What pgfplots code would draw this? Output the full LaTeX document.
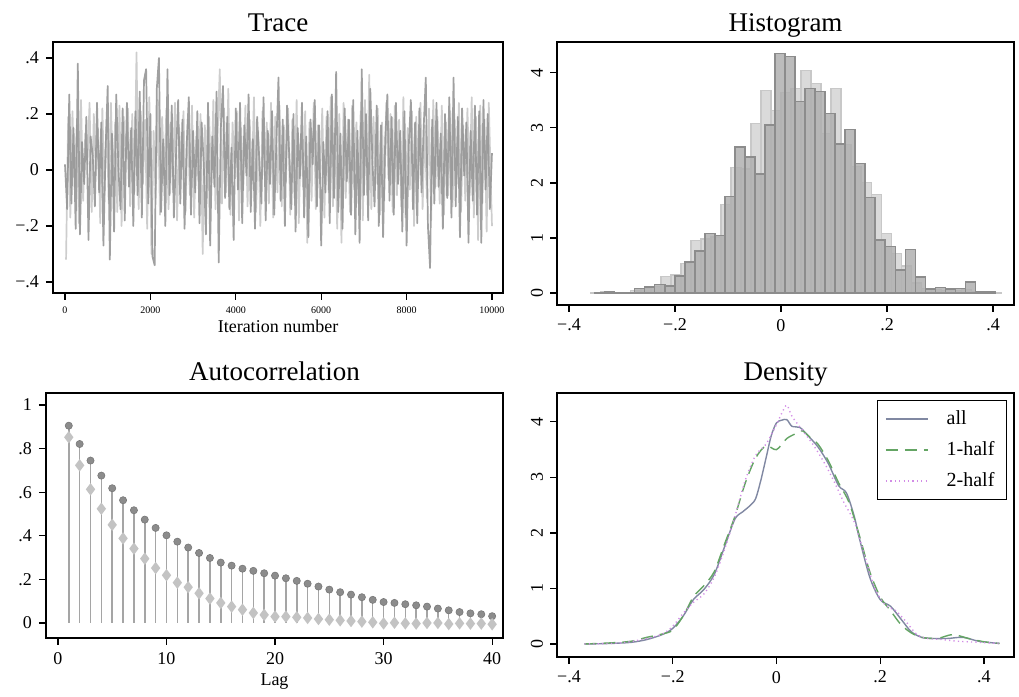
\documentclass[border=0pt]{standalone}
\usepackage{pgfplots}
\pgfplotsset{compat=1.18}
\usepackage{fontspec}
\setmainfont{Liberation Serif}
\definecolor{tdark}{RGB}{150,150,150}
\definecolor{tlight}{RGB}{205,205,205}
\definecolor{hlight}{RGB}{218,218,218}
\definecolor{hlightedge}{RGB}{200,200,200}
\definecolor{hdark}{RGB}{176,176,176}
\definecolor{hdarkedge}{RGB}{140,140,140}
\definecolor{stem}{RGB}{165,165,165}
\definecolor{cdark}{RGB}{140,140,140}
\definecolor{cdarkedge}{RGB}{120,120,120}
\definecolor{dlight}{RGB}{195,195,195}
\definecolor{dall}{RGB}{128,136,162}
\definecolor{dhalf}{RGB}{100,165,100}
\definecolor{dtwo}{RGB}{210,140,230}
\begin{document}
\begin{tikzpicture}
\path (0pt,0pt) rectangle (509.5pt,-346.5pt);
\pgfplotsset{every axis/.append style={
  scale only axis, anchor=north west,
  axis line style={line width=0.7pt},
  tick align=outside, major tick length=3.5pt,
  xtick pos=bottom, ytick pos=left,
  scaled x ticks=false, scaled y ticks=false,
  tick style={black,line width=0.6pt},
  tick label style={font=\fontsize{9}{10}\selectfont},
  title style={font=\fontsize{13.5}{15}\selectfont, at={(0.5,1)}, anchor=base},
  xlabel style={font=\fontsize{9}{10}\selectfont, at={(0.5,0)}, anchor=base},
}}
% ---------------- Trace ----------------
\begin{axis}[at={(26.5pt,-21pt)}, width=225pt, height=125.5pt,
  xmin=-281, xmax=10258, ymin=-0.439, ymax=0.457,
  xtick={0,2000,4000,6000,8000,10000}, xticklabels={0,2000,4000,6000,8000,10000},
  xticklabel style={font=\fontsize{5}{6}\selectfont},
  ytick={-0.4,-0.2,0,0.2,0.4}, yticklabels={−.4,−.2,0,.2,.4},
  title={Trace}, title style={yshift=-1pt},
  xlabel={Iteration number}, xlabel style={yshift=-20pt}]
\addplot[tlight, line width=0.85pt, line join=round] coordinates {
(25,-0.32) (75,0.19) (125,-0.17) (175,0.21) (225,-0.06) (275,0.16) (325,-0.19) (375,0.25) (425,-0.11) (475,0.13)
(525,0.02) (575,0.24) (625,-0.15) (675,0.20) (725,-0.02) (775,0.15) (825,-0.19) (875,0.22) (925,-0.09) (975,0.18)
(1025,-0.12) (1075,0.24) (1125,-0.04) (1175,0.17) (1225,-0.15) (1275,0.23) (1325,-0.20) (1375,0.19) (1425,0.03) (1475,0.22)
(1525,-0.13) (1575,0.20) (1625,-0.08) (1675,0.42) (1725,-0.14) (1775,0.21) (1825,-0.05) (1875,0.18) (1925,-0.21) (1975,0.26)
(2025,-0.30) (2075,0.14) (2125,-0.10) (2175,0.25) (2225,-0.16) (2275,0.19) (2325,-0.03) (2375,0.22) (2425,-0.14) (2475,0.17)
(2525,-0.08) (2575,0.24) (2625,-0.18) (2675,0.15) (2725,0.01) (2775,0.21) (2825,-0.15) (2875,0.18) (2925,-0.09) (2975,0.23)
(3025,-0.17) (3075,0.12) (3125,-0.04) (3175,0.20) (3225,-0.30) (3275,0.16) (3325,-0.10) (3375,0.19) (3425,-0.06) (3475,0.25)
(3525,-0.14) (3575,0.13) (3625,0.36) (3675,-0.12) (3725,0.22) (3775,-0.08) (3825,0.29) (3875,-0.16) (3925,0.17) (3975,-0.03)
(4025,0.21) (4075,-0.18) (4125,0.15) (4175,-0.07) (4225,0.23) (4275,-0.13) (4325,0.18) (4375,-0.05) (4425,0.26) (4475,-0.15)
(4525,0.14) (4575,-0.20) (4625,0.21) (4675,-0.02) (4725,0.17) (4775,-0.12) (4825,0.24) (4875,-0.17) (4925,0.19) (4975,-0.08)
(5025,0.23) (5075,-0.13) (5125,0.16) (5175,-0.04) (5225,0.22) (5275,-0.16) (5325,0.18) (5375,-0.10) (5425,0.25) (5475,-0.19)
(5525,0.13) (5575,-0.06) (5625,0.21) (5675,-0.26) (5725,0.17) (5775,-0.11) (5825,0.24) (5875,-0.14) (5925,0.16) (5975,-0.03)
(6025,0.22) (6075,-0.17) (6125,0.19) (6175,-0.08) (6225,0.26) (6275,-0.13) (6325,0.15) (6375,-0.21) (6425,0.20) (6475,-0.26)
(6525,0.24) (6575,-0.10) (6625,0.18) (6675,-0.15) (6725,0.23) (6775,-0.07) (6825,0.17) (6875,-0.12) (6925,0.21) (6975,-0.18)
(7025,0.25) (7075,-0.09) (7125,0.34) (7175,-0.14) (7225,0.19) (7275,-0.05) (7325,0.22) (7375,-0.16) (7425,0.17) (7475,-0.11)
(7525,0.24) (7575,-0.03) (7625,0.20) (7675,-0.15) (7725,0.23) (7775,-0.09) (7825,0.18) (7875,-0.13) (7925,0.26) (7975,-0.17)
(8025,0.15) (8075,-0.07) (8125,0.21) (8175,-0.20) (8225,0.19) (8275,-0.04) (8325,0.24) (8375,-0.14) (8425,0.16) (8475,-0.10)
(8525,0.22) (8575,-0.18) (8625,0.25) (8675,-0.06) (8725,0.19) (8775,-0.12) (8825,0.23) (8875,-0.16) (8925,0.17) (8975,-0.09)
(9025,0.21) (9075,-0.13) (9125,0.18) (9175,-0.05) (9225,0.24) (9275,-0.15) (9325,0.16) (9375,-0.11) (9425,0.22) (9475,-0.08)
(9525,0.26) (9575,-0.17) (9625,0.19) (9675,-0.25) (9725,0.23) (9775,-0.12) (9825,0.18) (9875,-0.22) (9925,0.24) (9975,-0.06)
(10000,-0.20)};
\addplot[tdark, line width=0.85pt, line join=round, opacity=0.9] coordinates {
(0,0.02) (50,-0.14) (100,0.27) (150,-0.12) (200,0.15) (250,-0.21) (300,0.38) (350,-0.23) (400,0.10) (450,-0.05)
(500,0.19) (550,-0.25) (600,0.12) (650,0.05) (700,-0.13) (750,0.24) (800,-0.08) (850,0.17) (900,-0.27) (950,0.07)
(1000,0.30) (1050,-0.32) (1100,0.13) (1150,-0.22) (1200,0.27) (1250,0.01) (1300,-0.14) (1350,0.22) (1400,-0.18) (1450,0.24)
(1500,-0.06) (1550,0.15) (1600,-0.20) (1650,0.21) (1700,-0.09) (1750,0.28) (1800,-0.17) (1850,0.32) (1900,0.36) (1950,-0.12)
(2000,0.20) (2050,-0.31) (2100,-0.34) (2150,0.29) (2200,0.40) (2250,-0.15) (2300,0.11) (2350,-0.20) (2400,0.36) (2450,-0.09)
(2500,0.23) (2550,-0.17) (2600,0.05) (2650,0.25) (2700,-0.12) (2750,0.18) (2800,-0.21) (2850,0.09) (2900,0.26) (2950,-0.16)
(3000,0.14) (3050,-0.08) (3100,0.21) (3150,-0.19) (3200,0.17) (3250,0.02) (3300,-0.23) (3350,0.24) (3400,-0.27) (3450,0.12)
(3500,-0.06) (3550,0.28) (3600,-0.33) (3650,0.15) (3700,0.30) (3750,-0.10) (3800,0.19) (3850,-0.14) (3900,0.08) (3950,-0.25)
(4000,0.22) (4050,-0.07) (4100,0.24) (4150,-0.19) (4200,0.16) (4250,-0.02) (4300,0.27) (4350,-0.15) (4400,0.11) (4450,-0.21)
(4500,0.19) (4550,0.04) (4600,-0.12) (4650,0.26) (4700,-0.18) (4750,0.14) (4800,-0.05) (4850,0.21) (4900,-0.16) (4950,0.09)
(5000,0.33) (5050,-0.11) (5100,0.18) (5150,-0.20) (5200,0.23) (5250,0.06) (5300,-0.14) (5350,0.20) (5400,-0.22) (5450,0.15)
(5500,-0.03) (5550,0.24) (5600,-0.17) (5650,0.12) (5700,-0.24) (5750,0.18) (5800,0.02) (5850,0.25) (5900,-0.13) (5950,0.16)
(6000,-0.27) (6050,0.10) (6100,-0.08) (6150,0.21) (6200,-0.19) (6250,0.27) (6300,-0.10) (6350,0.35) (6400,-0.15) (6450,0.13)
(6500,-0.21) (6550,0.22) (6600,-0.04) (6650,0.18) (6700,-0.16) (6750,0.25) (6800,-0.23) (6850,0.14) (6900,-0.26) (6950,0.36)
(7000,-0.09) (7050,0.20) (7100,-0.18) (7150,0.29) (7200,0.03) (7250,-0.13) (7300,0.23) (7350,-0.20) (7400,0.16) (7450,-0.24)
(7500,0.11) (7550,0.27) (7600,-0.11) (7650,0.19) (7700,-0.16) (7750,0.24) (7800,-0.05) (7850,0.14) (7900,-0.22) (7950,0.21)
(8000,-0.27) (8050,0.08) (8100,0.25) (8150,-0.14) (8200,0.17) (8250,-0.19) (8300,0.22) (8350,-0.08) (8400,0.15) (8450,0.33)
(8500,-0.20) (8550,-0.35) (8600,0.18) (8650,-0.12) (8700,0.24) (8750,-0.06) (8800,0.13) (8850,-0.21) (8900,0.20) (8950,-0.10)
(9000,0.26) (9050,-0.17) (9100,0.33) (9150,-0.13) (9200,0.19) (9250,-0.24) (9300,0.22) (9350,-0.02) (9400,0.17) (9450,-0.26)
(9500,0.14) (9550,-0.11) (9600,0.23) (9650,-0.16) (9700,0.21) (9750,-0.26) (9800,0.25) (9850,-0.07) (9900,0.20) (9950,-0.14)
(10000,0.06)};
\end{axis}
% ---------------- Histogram ----------------
\begin{axis}[at={(278.5pt,-21pt)}, width=228.5pt, height=131.5pt,
  xmin=-0.4226, xmax=0.4396, ymin=-0.218, ymax=4.56,
  xtick={-0.4,-0.2,0,0.2,0.4}, xticklabels={−.4,−.2,0,.2,.4},
  ytick={0,1,2,3,4}, yticklabels={0,1,2,3,4},
  yticklabel style={rotate=90, anchor=south},
  title={Histogram}, title style={yshift=-1pt}]
\addplot[ybar interval, fill=hlight, draw=hlightedge, line width=0.7pt] coordinates {
(-0.3590,0.01) (-0.3401,0.02) (-0.3212,0.01) (-0.3023,0.005) (-0.2834,0.05) (-0.2645,0.08) (-0.2456,0.12) (-0.2267,0.30)
(-0.2078,0.33) (-0.1889,0.54) (-0.1700,0.95) (-0.1511,0.98) (-0.1322,1.02) (-0.1133,1.61) (-0.0944,2.28) (-0.0755,2.25)
(-0.0566,3.08) (-0.0377,3.68) (-0.0188,3.32) (0.0001,3.64) (0.0190,3.72) (0.0379,4.04) (0.0568,3.81) (0.0757,2.90)
(0.0946,3.71) (0.1135,2.70) (0.1324,2.30) (0.1513,2.01) (0.1702,1.79) (0.1891,1.08) (0.2080,0.72) (0.2269,0.49)
(0.2458,0.18) (0.2647,0.08) (0.2836,0.06) (0.3025,0.05) (0.3214,0.04) (0.3403,0.06) (0.3592,0.02) (0.3781,0.02)
(0.3970,0.01) (0.4159,0.01)};
\addplot[ybar interval, fill=hdark, fill opacity=0.85, draw=hdarkedge, line width=0.7pt] coordinates {
(-0.3515,0.01) (-0.3326,0.02) (-0.3137,0.01) (-0.2948,0.005) (-0.2759,0.085) (-0.2570,0.11) (-0.2381,0.15) (-0.2192,0.13)
(-0.2003,0.31) (-0.1814,0.56) (-0.1625,0.76) (-0.1436,1.08) (-0.1247,1.04) (-0.1058,1.75) (-0.0869,2.65) (-0.0680,2.47)
(-0.0491,2.16) (-0.0302,3.05) (-0.0113,4.35) (0.0076,4.30) (0.0265,3.48) (0.0454,3.71) (0.0643,3.66) (0.0832,3.26)
(0.1021,2.71) (0.1210,2.97) (0.1399,2.35) (0.1588,1.74) (0.1777,0.96) (0.1966,0.84) (0.2155,0.42) (0.2344,0.79)
(0.2533,0.29) (0.2722,0.07) (0.2911,0.10) (0.3100,0.07) (0.3289,0.085) (0.3478,0.20) (0.3667,0.02) (0.3856,0.02)
(0.4045,0.02)};
\end{axis}
% ---------------- Autocorrelation ----------------
\begin{axis}[at={(23pt,-196.5pt)}, width=228.5pt, height=122.5pt,
  xmin=-1.1, xmax=41.0, ymin=-0.069, ymax=1.055,
  xtick={0,10,20,30,40}, xticklabels={0,10,20,30,40},
  ytick={0,0.2,0.4,0.6,0.8,1}, yticklabels={0,.2,.4,.6,.8,1},
  title={Autocorrelation}, title style={yshift=0pt},
  xlabel={Lag}, xlabel style={yshift=-24pt}]
\addplot[ycomb, stem, line width=0.75pt, mark=*, mark size=1.8pt,
  mark options={fill=cdark, draw=cdarkedge, line width=0.3pt}] coordinates {
(1,0.905) (2,0.821) (3,0.745) (4,0.676) (5,0.618) (6,0.563) (7,0.517) (8,0.474) (9,0.436) (10,0.402)
(11,0.373) (12,0.346) (13,0.321) (14,0.298) (15,0.277) (16,0.263) (17,0.249) (18,0.239) (19,0.228) (20,0.217)
(21,0.205) (22,0.193) (23,0.180) (24,0.167) (25,0.153) (26,0.141) (27,0.130) (28,0.118) (29,0.106) (30,0.096)
(31,0.092) (32,0.086) (33,0.081) (34,0.075) (35,0.066) (36,0.058) (37,0.050) (38,0.044) (39,0.040) (40,0.031)};
\addplot[ycomb, stem, line width=0.75pt, mark=diamond*, mark size=2.5pt,
  mark options={fill=dlight, draw=dlight}] coordinates {
(1,0.852) (2,0.723) (3,0.613) (4,0.524) (5,0.450) (6,0.388) (7,0.341) (8,0.295) (9,0.252) (10,0.219)
(11,0.185) (12,0.164) (13,0.136) (14,0.112) (15,0.092) (16,0.075) (17,0.061) (18,0.046) (19,0.037) (20,0.029)
(21,0.029) (22,0.026) (23,0.023) (24,0.018) (25,0.015) (26,0.012) (27,0.009) (28,0.006) (29,0.003) (30,-0.002)
(31,0.001) (32,-0.002) (33,-0.003) (34,0.000) (35,0.000) (36,-0.005) (37,-0.002) (38,-0.003) (39,-0.003) (40,-0.006)};
\end{axis}
% ---------------- Density ----------------
\begin{axis}[at={(278.5pt,-196.5pt)}, width=228.5pt, height=132pt,
  xmin=-0.423, xmax=0.458, ymin=-0.234, ymax=4.52,
  xtick={-0.4,-0.2,0,0.2,0.4}, xticklabels={−.4,−.2,0,.2,.4},
  ytick={0,1,2,3,4}, yticklabels={0,1,2,3,4},
  yticklabel style={rotate=90, anchor=south},
  title={Density}, title style={yshift=0pt},
  legend style={at={(1,1)}, anchor=north east, xshift=-3.5pt, yshift=-3.5pt,
    draw=black, line width=0.6pt, font=\fontsize{10}{11}\selectfont,
    row sep=3pt, inner xsep=4pt, inner ysep=3pt,
    /tikz/every odd column/.append style={column sep=7pt}},
  legend cell align=left,
  legend image code/.code={\draw[#1] (0pt,0pt) -- (21pt,0pt);}]
\addplot[dall, line width=0.7pt, smooth] coordinates {
(-0.37,0) (-0.32,0.01) (-0.28,0.03) (-0.25,0.08) (-0.22,0.17) (-0.2,0.28) (-0.18,0.5) (-0.16,0.8) (-0.14,0.98)
(-0.12,1.25) (-0.1,1.75) (-0.08,2.25) (-0.065,2.38) (-0.05,2.5) (-0.04,2.62) (-0.03,2.95) (-0.02,3.35) (-0.01,3.75)
(0,3.98) (0.01,4.03) (0.02,4.04) (0.03,3.92) (0.045,3.9) (0.06,3.76) (0.08,3.55) (0.1,3.25) (0.12,2.85) (0.135,2.72)
(0.15,2.3) (0.16,1.9) (0.18,1.2) (0.2,0.8) (0.22,0.68) (0.24,0.45) (0.26,0.22) (0.28,0.12) (0.3,0.1) (0.33,0.1)
(0.36,0.12) (0.39,0.05) (0.43,0.01)};
\addlegendentry{all}
\addplot[dhalf, line width=0.7pt, smooth, dash pattern=on 6pt off 3.5pt] coordinates {
(-0.37,0) (-0.32,0.02) (-0.28,0.05) (-0.25,0.12) (-0.22,0.18) (-0.2,0.25) (-0.18,0.5) (-0.16,0.85) (-0.14,1.05)
(-0.12,1.3) (-0.1,1.8) (-0.08,2.3) (-0.06,2.9) (-0.04,3.35) (-0.02,3.57) (0,3.5) (0.02,3.7) (0.04,3.8) (0.05,3.84)
(0.065,3.72) (0.08,3.6) (0.1,3.3) (0.12,2.9) (0.14,2.55) (0.16,1.95) (0.18,1.3) (0.2,0.85) (0.22,0.6) (0.24,0.35)
(0.26,0.2) (0.28,0.12) (0.31,0.1) (0.34,0.17) (0.37,0.1) (0.4,0.04) (0.43,0.01)};
\addlegendentry{1-half}
\addplot[dtwo, line width=0.7pt, smooth, dash pattern=on 0.6pt off 1.6pt] coordinates {
(-0.37,0) (-0.3,0.02) (-0.25,0.1) (-0.22,0.18) (-0.2,0.32) (-0.18,0.55) (-0.16,0.75) (-0.14,0.9) (-0.12,1.2)
(-0.1,1.7) (-0.08,2.3) (-0.06,2.95) (-0.04,3.4) (-0.02,3.6) (0,3.95) (0.01,4.15) (0.02,4.3) (0.03,4.1) (0.05,3.85)
(0.07,3.6) (0.09,3.3) (0.11,2.95) (0.13,2.55) (0.15,2.2) (0.17,1.6) (0.19,1.0) (0.21,0.7) (0.23,0.6) (0.25,0.4)
(0.27,0.18) (0.29,0.1) (0.32,0.08) (0.35,0.05) (0.39,0.03) (0.43,0.01)};
\addlegendentry{2-half}
\end{axis}
\end{tikzpicture}
\end{document}
